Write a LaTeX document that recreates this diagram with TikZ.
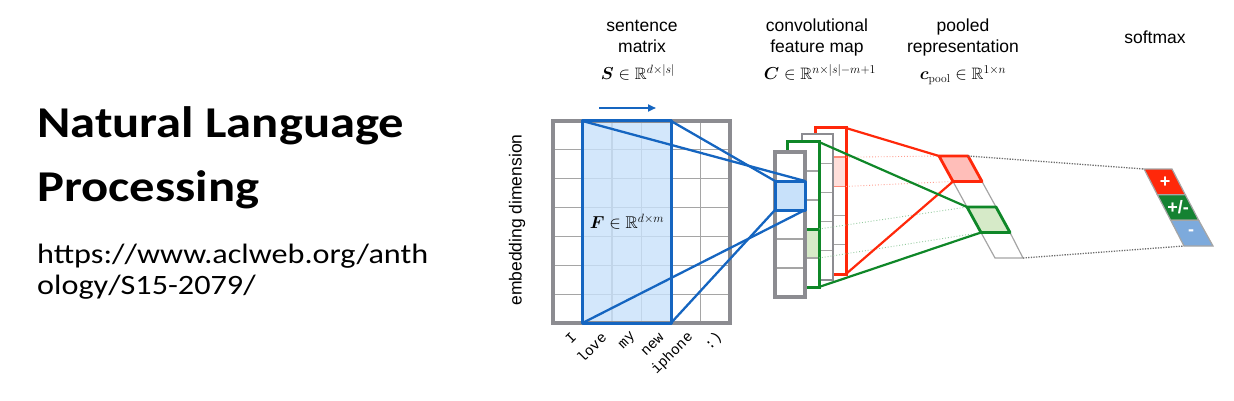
\documentclass[tikz,border=0pt]{standalone}
\usepackage{amsmath,amssymb}
\usepackage{fontspec}
\newfontfamily\calfont[FakeStretch=1.15]{Carlito}
\newfontfamily\helfont{Liberation Sans}
\newfontfamily\codefont{Liberation Mono}
\definecolor{cnnblue}{RGB}{21,101,192}
\definecolor{lightblue}{RGB}{200,225,250}
\definecolor{redc}{RGB}{255,40,10}
\definecolor{pinkc}{RGB}{255,190,185}
\definecolor{lightpink}{RGB}{255,222,218}
\definecolor{greenc}{RGB}{15,135,40}
\definecolor{lightgreen}{RGB}{214,234,200}
\definecolor{gridgray}{RGB}{165,165,165}
\definecolor{framegray}{RGB}{140,140,145}
\definecolor{softblue}{RGB}{125,170,220}
\definecolor{softgreen}{RGB}{20,130,50}
\definecolor{dotgray}{RGB}{110,110,110}
\usetikzlibrary{arrows.meta}
\begin{document}
\begin{tikzpicture}[x=1pt,y=-1pt,
  gridline/.style={draw=gridgray, line width=1.2pt},
  gridframe/.style={draw=framegray, line width=3.5pt},
  blueline/.style={draw=cnnblue, line width=2.3pt, line join=round},
  redline/.style={draw=redc, line width=2.2pt, line join=round},
  greenline/.style={draw=greenc, line width=2.2pt, line join=round},
  reddots/.style={draw=redc!45, line width=0.9pt, dotted},
  greendots/.style={draw=greenc!45, line width=0.9pt, dotted},
  graydots/.style={draw=dotgray, line width=1.3pt, dash pattern=on 1.3pt off 1.3pt},
  colframe/.style={line width=3pt, fill=white},
  poolcell/.style={draw=gridgray, line width=1.2pt},
  label/.style={font=\helfont\fontsize{17.5}{20}\selectfont, anchor=base},
  mathlabel/.style={font=\fontsize{16.5}{20}\selectfont, anchor=base},
  word/.style={font=\codefont\fontsize{14.5}{15}\selectfont, rotate=45, anchor=east, inner sep=0pt},
  title/.style={font=\calfont\bfseries\fontsize{44}{50}\selectfont, anchor=base west, inner sep=0pt},
  url/.style={font=\calfont\fontsize{28}{32}\selectfont, anchor=base west, inner sep=0pt},
  softtext/.style={font=\helfont\bfseries\fontsize{18}{18}\selectfont, text=white, inner sep=0pt}
]
\useasboundingbox (0,0) rectangle (1234,401);

% ---------- left text ----------
\node[title] (t1) at (37,138) {Natural Language};
\node[title] (t2) at (37,201) {Processing};
\node[url] (u1) at (37,263) {https://www.aclweb.org/anth};
\node[url] (u2) at (37,294) {ology/S15-2079/};

% ---------- headings ----------
\node[label] (h1a) at (642,32) {sentence};
\node[label] (h1b) at (642,53) {matrix};
\node[mathlabel] (h1c) at (638,80) {$\boldsymbol{S}\in\mathbb{R}^{d\times|s|}$};
\node[label] (h2a) at (817,32) {convolutional};
\node[label] (h2b) at (817,53) {feature map};
\node[mathlabel] (h2c) at (820,80) {$\boldsymbol{C}\in\mathbb{R}^{n\times|s|-m+1}$};
\node[label] (h3a) at (963,32) {pooled};
\node[label] (h3b) at (963,53) {representation};
\node[mathlabel] (h3c) at (963,80) {$\boldsymbol{c}_{\text{pool}}\in\mathbb{R}^{1\times n}$};
\node[label] (h4) at (1155,44) {softmax};

\node[font=\helfont\fontsize{17.5}{20}\selectfont, rotate=90] (emb) at (517,220) {embedding dimension};

% ---------- sentence matrix ----------
\foreach \i in {1,...,5} \draw[gridline] (553+29.5*\i,121) -- (553+29.5*\i,323);
\foreach \j in {1,...,6} \draw[gridline] (553,121+28.857*\j) -- (730,121+28.857*\j);
\coordinate (Ftl) at (582.5,121);
\coordinate (Ftr) at (671,121);
\coordinate (Fbl) at (582.5,323);
\coordinate (Fbr) at (671,323);
\fill[lightblue, opacity=0.8] (Ftl) rectangle (Fbr);
\draw[gridframe] (553,121) rectangle (730,323);
\draw[blueline, line width=3pt] (Ftl) rectangle (Fbr);
\node[mathlabel, anchor=center, font=\fontsize{17}{20}\selectfont] (Flab) at (627,222) {$\boldsymbol{F}\in\mathbb{R}^{d\times m}$};
\coordinate (arrA) at (599,108);
\coordinate (arrB) at (656,108);
\draw[cnnblue, line width=2pt, -{Triangle[length=8pt,width=7pt]}] (arrA) -- (arrB);

% words
\node[word] (w1) at (574,335) {I};
\node[word] (w2) at (604,335) {love};
\node[word] (w3) at (634,335) {my};
\node[word] (w4) at (662,335) {new};
\node[word] (w5) at (691,335) {iphone};
\node[word] (w6) at (720,335) {:)};

% ---------- feature map columns ----------
% red column (back)
\draw[redc, colframe] (815,128) rectangle (846,274);
\fill[lightpink] (816.5,157.2) rectangle (844.5,186.4);
\draw[redc!55, line width=1.5pt] (815,157.2) -- (846,157.2) (815,186.4) -- (846,186.4);
\draw[gridline] (815,215.6) -- (846,215.6) (815,244.8) -- (846,244.8);
\draw[redc, line width=3pt] (815,128) rectangle (846,274);
% middle gray column
\draw[framegray, colframe, line width=2.6pt] (802,134) rectangle (833,280);
\foreach \j in {1,...,4} \draw[gridline] (802,134+29.2*\j) -- (833,134+29.2*\j);
\draw[framegray, line width=2.6pt] (802,134) rectangle (833,280);
% green column
\draw[greenc, colframe] (787,142) rectangle (819,287);
\fill[lightgreen] (788.5,229) rectangle (817.5,258);
\foreach \j in {1,2,4} \draw[gridline] (787,142+29*\j) -- (819,142+29*\j);
\draw[greenc, line width=3pt] (787,229) -- (819,229);
\draw[greenc, line width=3pt] (787,142) rectangle (819,287);
% front gray column
\draw[framegray, colframe, line width=3.5pt] (775,152) rectangle (805,297);
\foreach \j in {1,...,4} \draw[gridline] (775,152+29*\j) -- (805,152+29*\j);
\coordinate (Bctl) at (775,181);
\coordinate (Bctr) at (805,181);
\coordinate (Bcbl) at (775,210);
\coordinate (Bcbr) at (805,210);
\draw[framegray, line width=3.5pt] (775,152) rectangle (805,297);
\draw[blueline, fill=lightblue, line width=3pt] (Bctl) rectangle (Bcbr);

% blue connectors
\draw[blueline] (Ftl) -- (Bctr);
\draw[blueline] (Ftr) -- (Bctl);
\draw[blueline] (Fbl) -- (Bcbr);
\draw[blueline] (Fbr) -- (Bcbl);

% ---------- pooled representation ----------
\coordinate (P0l) at (939,156);   \coordinate (P0r) at (968,156);
\coordinate (P1l) at (953,181.5); \coordinate (P1r) at (982,181.5);
\coordinate (P2l) at (967,207);   \coordinate (P2r) at (996,207);
\coordinate (P3l) at (981,232.5); \coordinate (P3r) at (1010,232.5);
\coordinate (P4l) at (995,258);   \coordinate (P4r) at (1023,258);
\draw[poolcell] (P1l) -- (P1r) -- (P2r) -- (P2l) -- cycle;
\draw[poolcell] (P3l) -- (P3r) -- (P4r) -- (P4l) -- cycle;

% column anchor points
\coordinate (Rtr) at (846,128);
\coordinate (Rbr) at (846,274);
\coordinate (Rc1) at (846,157.2);
\coordinate (Rc2) at (846,186.4);
\coordinate (Gtr) at (819,142);
\coordinate (Gbr) at (819,287);
\coordinate (Gc1) at (819,229);
\coordinate (Gc2) at (819,258);

% dotted faint connectors
\draw[reddots] (Rc1) -- (P0l);
\draw[reddots] (Rc2) -- (P1l);
\draw[greendots] (Gc1) -- (P2l);
\draw[greendots] (Gc2) -- (P3l);

% red connectors
\draw[redline] (Rtr) -- (P0l);
\draw[redline] (Rbr) -- (P1l);
% green connectors
\draw[greenline] (Gtr) -- (P2l);
\draw[greenline] (Gbr) -- (P3l);
\draw[redline, fill=pinkc, line width=2.8pt] (P0l) -- (P0r) -- (P1r) -- (P1l) -- cycle;
\draw[greenline, fill=lightgreen, line width=2.8pt] (P2l) -- (P2r) -- (P3r) -- (P3l) -- cycle;

% ---------- softmax ----------
\coordinate (S0l) at (1144,169);   \coordinate (S0r) at (1172,169);
\coordinate (S1l) at (1157.3,194.7); \coordinate (S1r) at (1185.3,194.7);
\coordinate (S2l) at (1170.7,220.3); \coordinate (S2r) at (1198.7,220.3);
\coordinate (S3l) at (1184,246);   \coordinate (S3r) at (1213,246);
\draw[graydots] (P0r) -- (S0l);
\draw[graydots] (P4r) -- (S3l);
\draw[fill=redc, draw=gridgray, line width=1.2pt] (S0l) -- (S0r) -- (S1r) -- (S1l) -- cycle;
\draw[fill=softgreen, draw=gridgray, line width=1.2pt] (S1l) -- (S1r) -- (S2r) -- (S2l) -- cycle;
\draw[fill=softblue, draw=gridgray, line width=1.2pt] (S2l) -- (S2r) -- (S3r) -- (S3l) -- cycle;
\node[softtext] (sp) at (1165,182) {+};
\node[softtext] (spm) at (1178,207.5) {+/-};
\node[softtext] (sm) at (1191,233) {-};
\end{tikzpicture}
\end{document}
